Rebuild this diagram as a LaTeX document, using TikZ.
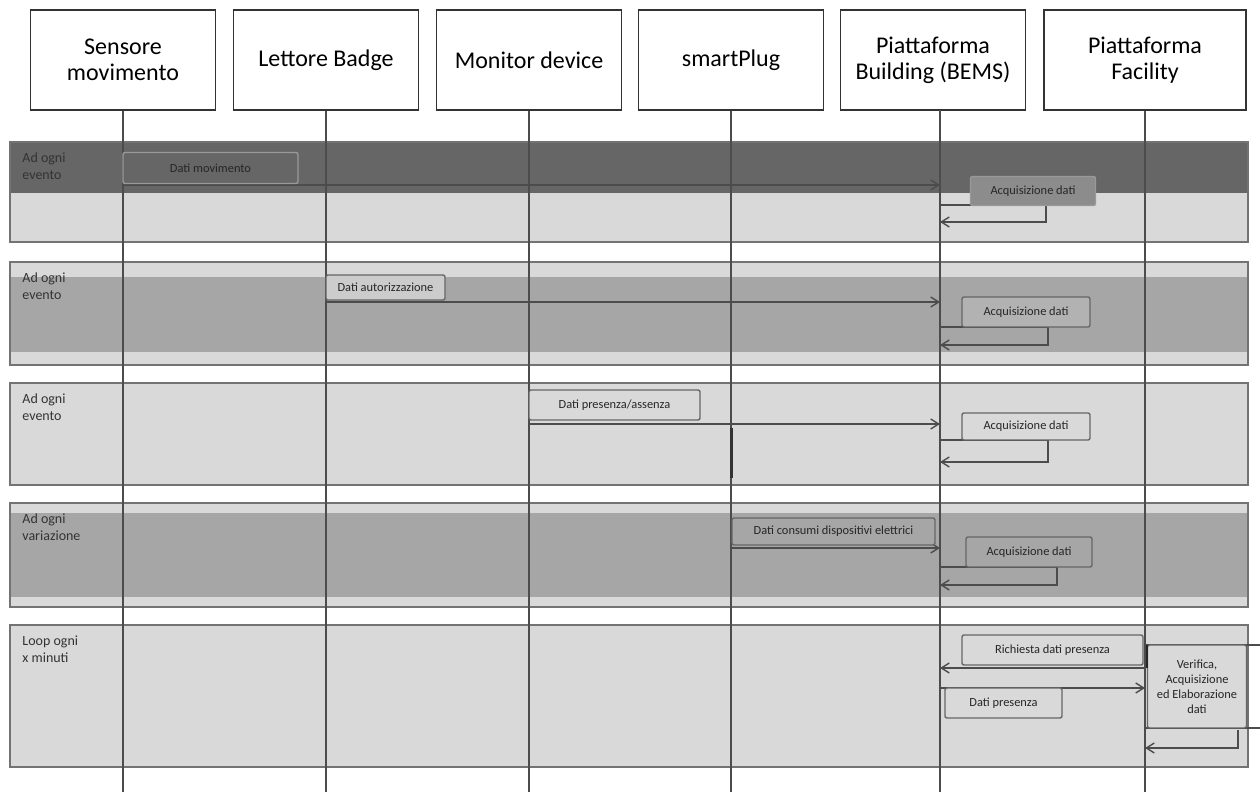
\documentclass[tikz,border=0pt]{standalone}
\usepackage{fontspec}
\setmainfont{Carlito}
\usetikzlibrary{arrows.meta}
\begin{document}
\begin{tikzpicture}[x=0.5pt,y=-0.5pt,
  hdr/.style={draw=black!80, line width=0.9pt, fill=white, minimum width=92.5pt, minimum height=50pt, align=center, font=\fontsize{12}{13}\selectfont, inner sep=2pt},
  life/.style={draw=black!70, line width=0.7pt},
  frm/.style={draw=black!55, line width=0.9pt},
  flab/.style={anchor=north west, align=left, font=\fontsize{7}{8.5}\selectfont, text=black!80, inner sep=0pt},
  msgbox/.style={draw=black!60, line width=0.7pt, rounded corners=1pt, font=\fontsize{6.2}{7.5}\selectfont, inner sep=0pt, text=black!85, align=center},
  msg/.style={draw=black!70, line width=0.7pt, -{Straight Barb[length=4pt,width=5pt]}},
  seg/.style={draw=black!70, line width=0.7pt},
]
\useasboundingbox (0,0) rectangle (1260,796);
\fill[white] (0,0) rectangle (1260,796);

% ---------- frames ----------
\fill[black!15] (10,142) rectangle (1248,242);
\fill[black!60] (10,142) rectangle (1248,193);
\draw[frm] (10,142) rectangle (1248,242);

\fill[black!15] (10,262) rectangle (1248,365);
\fill[black!35] (10,277) rectangle (1248,352);
\draw[frm] (10,262) rectangle (1248,365);

\fill[black!15] (10,383) rectangle (1248,485);
\draw[frm] (10,383) rectangle (1248,485);

\fill[black!15] (10,503) rectangle (1248,607);
\fill[black!35] (10,513) rectangle (1248,597);
\draw[frm] (10,503) rectangle (1248,607);

\fill[black!15] (10,625) rectangle (1248,767);
\draw[frm] (10,625) rectangle (1248,767);

\node[flab] (fl1) at (22,152) {Ad ogni\\evento};
\node[flab] (fl2) at (22,272) {Ad ogni\\evento};
\node[flab] (fl3) at (22,393) {Ad ogni\\evento};
\node[flab] (fl4) at (22,513) {Ad ogni\\variazione};
\node[flab] (fl5) at (22,635) {Loop ogni\\x minuti};

% ---------- headers and lifelines ----------
\node[hdr] (h1) at (123,60) {Sensore\\movimento};
\node[hdr] (h2) at (326,60) {Lettore Badge};
\node[hdr] (h3) at (529,60) {Monitor device};
\node[hdr] (h4) at (731,60) {smartPlug};
\node[hdr] (h5) at (933,60) {Piattaforma\\Building (BEMS)};
\node[hdr, minimum width=101pt] (h6) at (1145,60) {Piattaforma\\Facility};

\coordinate (t5) at (940,110);
\coordinate (e1) at (123,792);
\coordinate (e2) at (326,792);
\coordinate (e3) at (529,792);
\coordinate (e4) at (731,792);
\coordinate (e5) at (940,792);
\coordinate (e6) at (1145,792);
\draw[life] (h1.south) -- (e1);
\draw[life] (h2.south) -- (e2);
\draw[life] (h3.south) -- (e3);
\draw[life] (h4.south) -- (e4);
\draw[life] (t5) -- (e5);
\draw[life] (h6.south) -- (e6);

% ---------- frame 1 ----------
\coordinate (m1s) at (123,185);
\coordinate (m1e) at (940,185);
\draw[msg] (m1s) -- (m1e);
\node[msgbox, draw=black!40, fill=black!60, minimum width=87.5pt, minimum height=15.5pt] (m1) at (210.5,168) {Dati movimento};
\coordinate (s1a) at (940,205);
\coordinate (s1b) at (940,222);
\draw[msg] (s1a) -- (1046,205) -- (1046,222) -- (s1b);
\node[msgbox, draw=black!40, fill=black!45, minimum width=62.5pt, minimum height=14.5pt] (a1) at (1033,191) {Acquisizione dati};

% ---------- frame 2 ----------
\coordinate (m2s) at (326,302);
\coordinate (m2e) at (940,302);
\draw[msg] (m2s) -- (m2e);
\node[msgbox, fill=black!20, minimum width=59.5pt, minimum height=12.5pt] (m2) at (385.5,287.5) {Dati autorizzazione};
\coordinate (s2a) at (940,327);
\coordinate (s2b) at (940,345);
\draw[msg] (s2a) -- (1048,327) -- (1048,345) -- (s2b);
\node[msgbox, fill=black!30, minimum width=64pt, minimum height=15pt] (a2) at (1026,312) {Acquisizione dati};

% ---------- frame 3 ----------
\coordinate (m3s) at (529,424);
\coordinate (m3e) at (940,424);
\draw[msg] (m3s) -- (m3e);
\node[msgbox, fill=black!15, minimum width=85.5pt, minimum height=15pt] (m3) at (614.5,405) {Dati presenza/assenza};
\coordinate (act1) at (731,428);
\coordinate (act2) at (731,478);
\draw[draw=black!80, line width=1.5pt] (act1) -- (act2);
\coordinate (s3a) at (940,440);
\coordinate (s3b) at (940,462);
\draw[msg] (s3a) -- (1048,440) -- (1048,462) -- (s3b);
\node[msgbox, fill=black!15, minimum width=64pt, minimum height=13.5pt] (a3) at (1026,426.5) {Acquisizione dati};

% ---------- frame 4 ----------
\coordinate (m4s) at (731,548);
\coordinate (m4e) at (940,548);
\draw[msg] (m4s) -- (m4e);
\node[msgbox, fill=black!35, minimum width=101.5pt, minimum height=13.5pt] (m4) at (833.5,531.5) {Dati consumi dispositivi elettrici};
\coordinate (s4a) at (940,567);
\coordinate (s4b) at (940,585);
\draw[msg] (s4a) -- (1057,567) -- (1057,585) -- (s4b);
\node[msgbox, fill=black!35, minimum width=63pt, minimum height=15pt] (a4) at (1029,552) {Acquisizione dati};

% ---------- frame 5 ----------
\coordinate (r1s) at (1145,668);
\coordinate (r1e) at (940,668);
\draw[msg] (r1s) -- (r1e);
\node[msgbox, fill=black!15, minimum width=90.5pt, minimum height=15pt] (r1) at (1052.5,650) {Richiesta dati presenza};
\coordinate (r2s) at (940,688);
\coordinate (r2e) at (1145,688);
\draw[msg] (r2s) -- (r2e);
\node[msgbox, fill=black!15, minimum width=58.5pt, minimum height=15pt] (r2) at (1003.5,703) {Dati presenza};
\coordinate (v1a) at (1145,645);
\coordinate (v1b) at (1145,728);
\draw[seg] (v1a) -- (1264,645) -- (1264,728) -- (v1b);
\coordinate (v2a) at (1238,730);
\coordinate (v2b) at (1145,748);
\draw[msg] (v2a) -- (1238,748) -- (v2b);
\node[msgbox, fill=black!15, minimum width=49.5pt, minimum height=41.5pt] (vf) at (1197,686.5) {Verifica,\\Acquisizione\\ed Elaborazione\\dati};
\coordinate (b1) at (1147,645);
\coordinate (b2) at (1147,668);
\draw[draw=black!85, line width=1.3pt] (b1) -- (b2);
\end{tikzpicture}
\end{document}
